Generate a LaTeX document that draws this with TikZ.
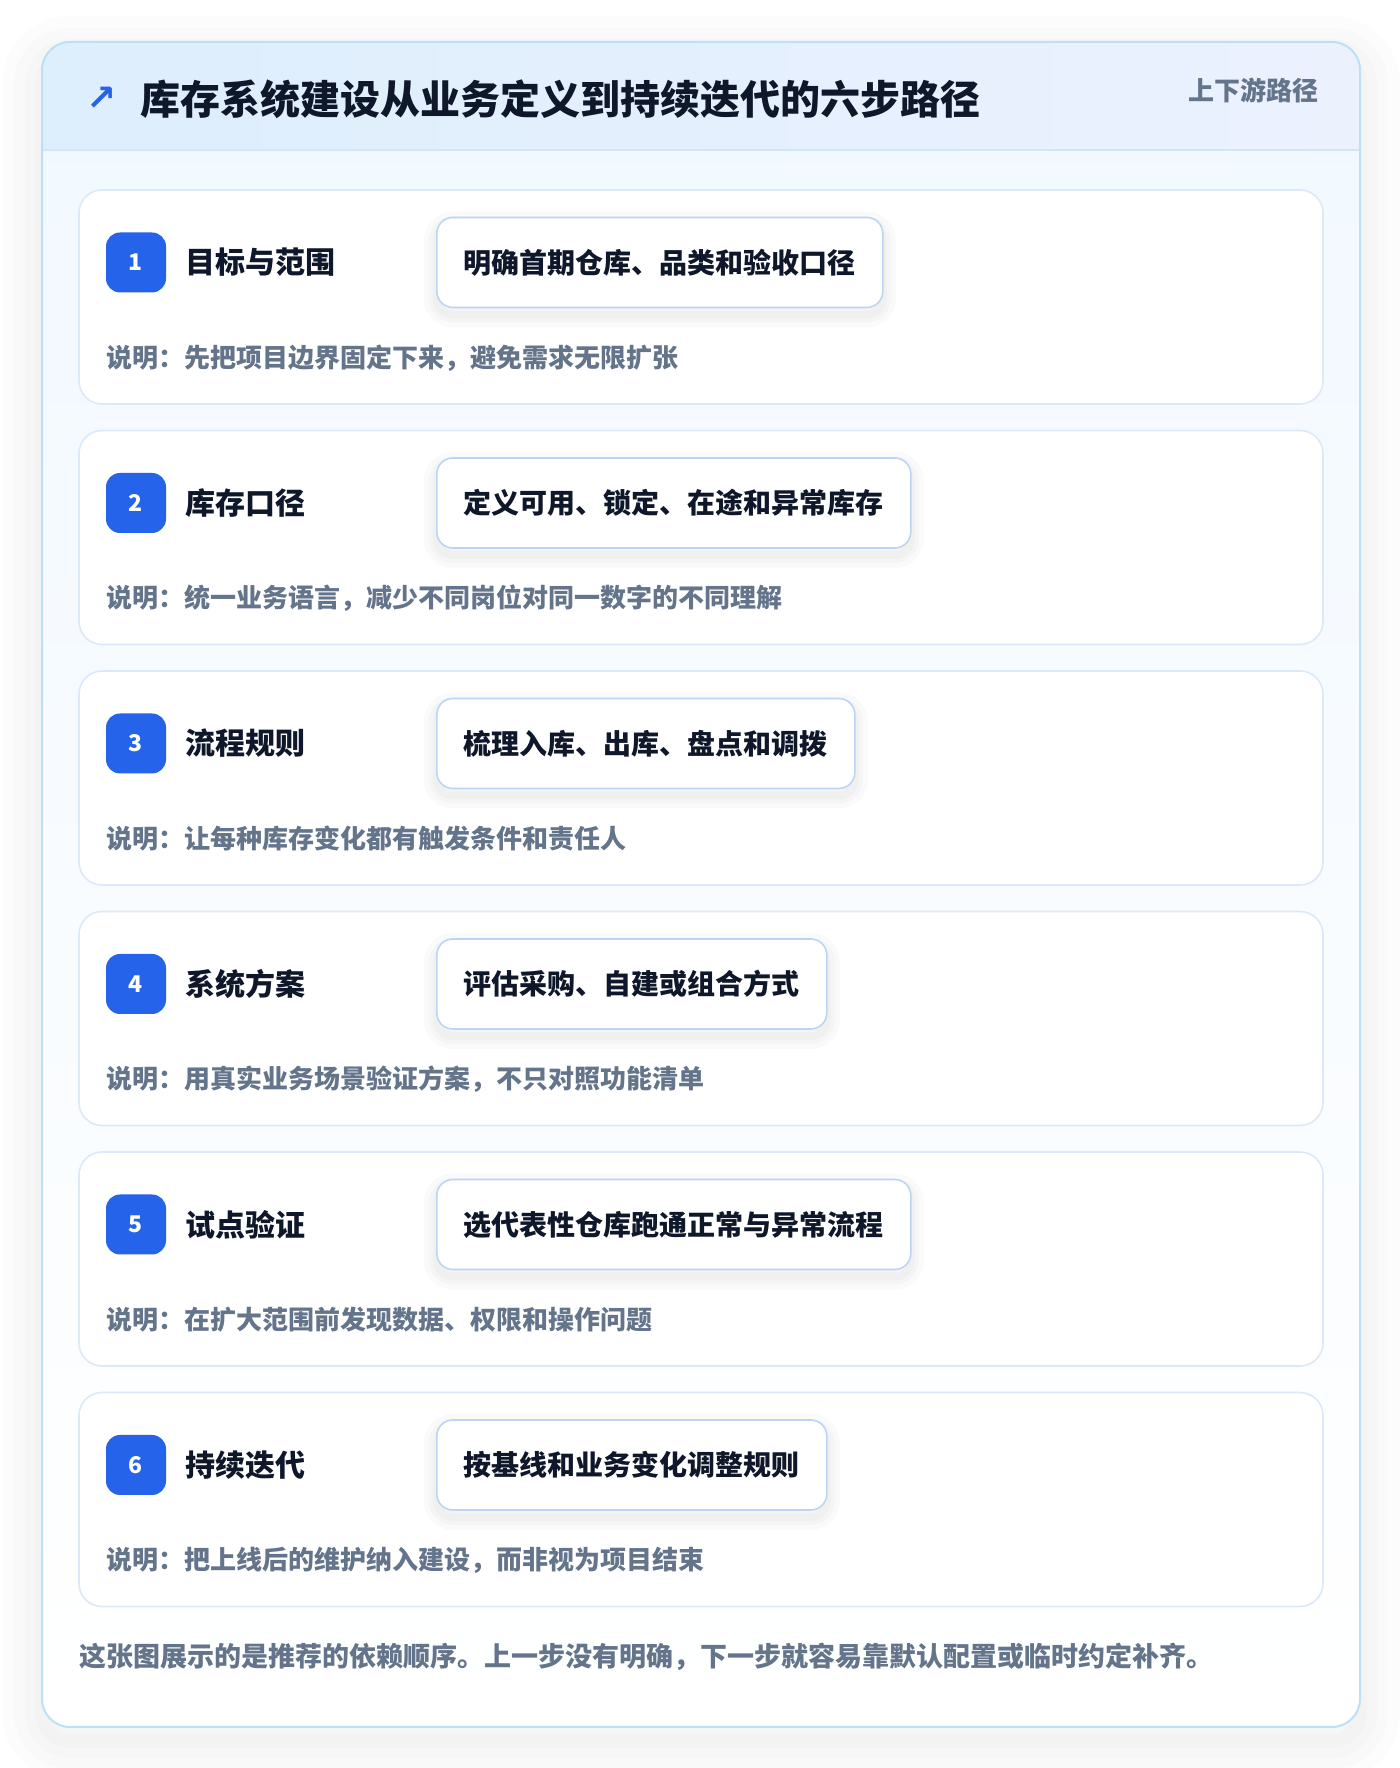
\documentclass[tikz,border=0pt]{standalone}
\usepackage{fontspec}
\setmainfont{Noto Sans CJK SC}
\newfontfamily\symfont{DejaVu Sans}
\usepackage{tikz}
\usetikzlibrary{positioning}

\definecolor{inkdark}{HTML}{0F172A}
\definecolor{inkgray}{HTML}{64748B}
\definecolor{accent}{HTML}{2563EB}
\definecolor{outerline}{HTML}{BCE1F5}
\definecolor{bodyfill}{HTML}{F1F8FF}
\definecolor{hdrleft}{HTML}{DDEEFD}
\definecolor{hdrright}{HTML}{ECF1FE}
\definecolor{hdrline}{HTML}{D3E6F8}
\definecolor{cardline}{HTML}{DBE9F8}
\definecolor{boxline}{HTML}{BDD5F3}

\begin{document}
\begin{tikzpicture}[line join=round,
  every node/.style={font=\bfseries},
  halo/.style={preaction={draw=black,draw opacity=#1,transform canvas={yshift=-7bp},line width=26bp},
    preaction={draw=black,draw opacity=#1,transform canvas={yshift=-7bp},line width=16bp},
    preaction={draw=black,draw opacity=#1,transform canvas={yshift=-7bp},line width=8bp}},
  bighalo/.style={preaction={draw=black,draw opacity=#1,transform canvas={yshift=-14bp},line width=80bp},
    preaction={draw=black,draw opacity=#1,transform canvas={yshift=-14bp},line width=56bp},
    preaction={draw=black,draw opacity=#1,transform canvas={yshift=-14bp},line width=34bp},
    preaction={draw=black,draw opacity=#1,transform canvas={yshift=-14bp},line width=14bp}},
  stepcard/.style={draw=cardline,line width=1.6bp,fill=white,rounded corners=23bp,
    minimum width=1244bp,minimum height=214bp,inner sep=0bp},
  badge/.style={fill=accent,text=white,rounded corners=14bp,minimum size=60bp,inner sep=0bp,
    font=\bfseries\fontsize{23bp}{27bp}\selectfont},
  steptitle/.style={anchor=west,inner sep=0bp,text=inkdark,font=\bfseries\fontsize{30bp}{36bp}\selectfont},
  actionbox/.style={anchor=west,halo=0.018,draw=boxline,line width=1.6bp,fill=white,rounded corners=16bp,
    minimum height=90bp,inner xsep=27bp,inner ysep=0bp,text=inkdark,
    font=\bfseries\fontsize{28bp}{34bp}\selectfont},
  notetext/.style={anchor=west,inner sep=0bp,text=inkgray,font=\bfseries\fontsize{26bp}{31bp}\selectfont},
]
\useasboundingbox (0bp,0bp) rectangle (1400bp,1768bp);
%% outer card with header band
\fill[white] (0bp,0bp) rectangle (1400bp,1768bp);
\path[bighalo=0.012,rounded corners=28bp,top color=bodyfill,bottom color=white]
  (42bp,41bp) rectangle (1360bp,1726bp);
\begin{scope}
  \clip[rounded corners=28bp] (42bp,41bp) rectangle (1360bp,1726bp);
  \shade[left color=hdrleft,right color=hdrright] (42bp,1618bp) rectangle (1360bp,1726bp);
  \draw[hdrline,line width=2bp] (42bp,1618bp) -- (1360bp,1618bp);
\end{scope}
\draw[outerline,line width=2bp,rounded corners=28bp] (42bp,41bp) rectangle (1360bp,1726bp);
\node (icon) at (102bp,1669bp) [text=accent,font=\symfont\bfseries\fontsize{36bp}{40bp}\selectfont] {↗};
\node (heading) at (140bp,1669bp) [anchor=west,inner sep=0bp,text=inkdark,font=\bfseries\fontsize{40bp}{48bp}\selectfont] {库存系统建设从业务定义到持续迭代的六步路径};
\node (tag) at (1319bp,1678bp) [anchor=east,inner sep=0bp,text=inkgray,font=\bfseries\fontsize{26bp}{31bp}\selectfont] {上下游路径};
%% step 1
\node (card1) at (701bp,1471bp) [stepcard] {};
\node (badge1) at (136bp,1505.5bp) [badge] {1};
\node (title1) [steptitle,right=19bp of badge1] {目标与范围};
\node (box1) at (436bp,1505.5bp) [actionbox] {明确首期仓库、品类和验收口径};
\node (note1) at (106bp,1410bp) [notetext] {说明：先把项目边界固定下来，避免需求无限扩张};
%% step 2
\node (card2) at (701bp,1230.5bp) [stepcard] {};
\node (badge2) at (136bp,1265bp) [badge] {2};
\node (title2) [steptitle,right=19bp of badge2] {库存口径};
\node (box2) at (436bp,1265bp) [actionbox] {定义可用、锁定、在途和异常库存};
\node (note2) at (106bp,1169.5bp) [notetext] {说明：统一业务语言，减少不同岗位对同一数字的不同理解};
%% step 3
\node (card3) at (701bp,990bp) [stepcard] {};
\node (badge3) at (136bp,1024.5bp) [badge] {3};
\node (title3) [steptitle,right=19bp of badge3] {流程规则};
\node (box3) at (436bp,1024.5bp) [actionbox] {梳理入库、出库、盘点和调拨};
\node (note3) at (106bp,929bp) [notetext] {说明：让每种库存变化都有触发条件和责任人};
%% step 4
\node (card4) at (701bp,749.5bp) [stepcard] {};
\node (badge4) at (136bp,784bp) [badge] {4};
\node (title4) [steptitle,right=19bp of badge4] {系统方案};
\node (box4) at (436bp,784bp) [actionbox] {评估采购、自建或组合方式};
\node (note4) at (106bp,688.5bp) [notetext] {说明：用真实业务场景验证方案，不只对照功能清单};
%% step 5
\node (card5) at (701bp,509bp) [stepcard] {};
\node (badge5) at (136bp,543.5bp) [badge] {5};
\node (title5) [steptitle,right=19bp of badge5] {试点验证};
\node (box5) at (436bp,543.5bp) [actionbox] {选代表性仓库跑通正常与异常流程};
\node (note5) at (106bp,448bp) [notetext] {说明：在扩大范围前发现数据、权限和操作问题};
%% step 6
\node (card6) at (701bp,268.5bp) [stepcard] {};
\node (badge6) at (136bp,303bp) [badge] {6};
\node (title6) [steptitle,right=19bp of badge6] {持续迭代};
\node (box6) at (436bp,303bp) [actionbox] {按基线和业务变化调整规则};
\node (note6) at (106bp,207.5bp) [notetext] {说明：把上线后的维护纳入建设，而非视为项目结束};
%% footer
\node (footer) at (79bp,111bp) [notetext,font=\bfseries\fontsize{27bp}{32bp}\selectfont] {这张图展示的是推荐的依赖顺序。上一步没有明确，下一步就容易靠默认配置或临时约定补齐。};
%
\end{tikzpicture}
\end{document}
